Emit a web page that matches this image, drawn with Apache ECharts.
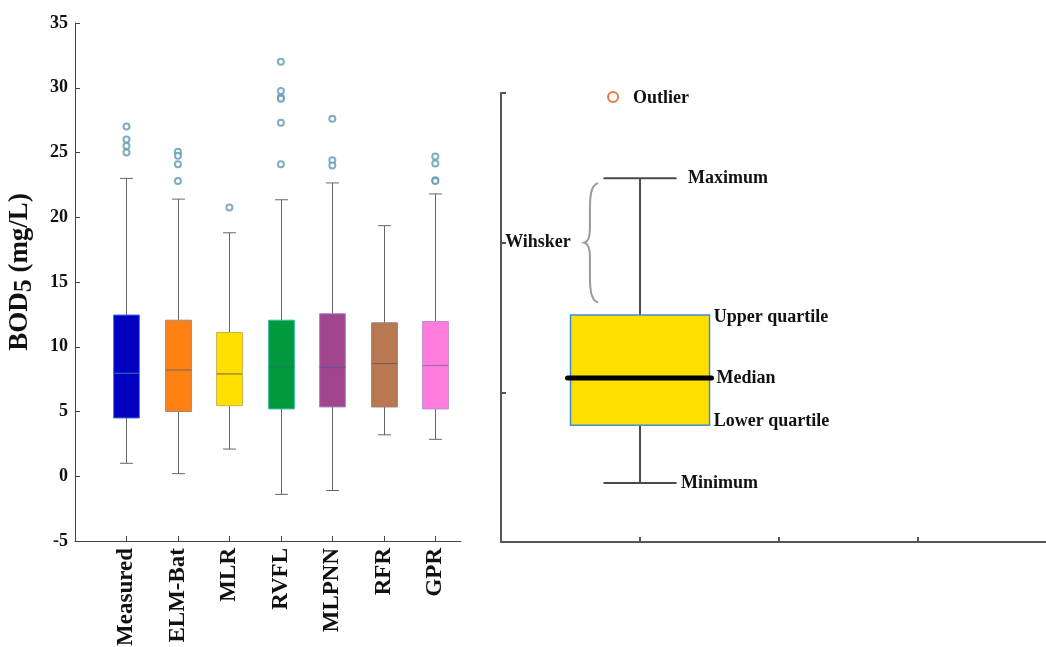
<!DOCTYPE html>
<html>
<head>
<meta charset="utf-8">
<script src="https://cdn.jsdelivr.net/npm/echarts@6/dist/echarts.min.js"></script>
<style>html,body{margin:0;padding:0;background:#fff;}#c{width:1046px;height:647px;}</style>
</head>
<body>
<div id="c"></div>
<script>
// ---- data (left panel) ----
const categories = ['Measured', 'ELM-Bat', 'MLR', 'RVFL', 'MLPNN', 'RFR', 'GPR'];
const mins    = [1.0, 0.2, 2.1, -1.4, -1.1, 3.2, 2.85];
const q1s     = [4.5, 5.0, 5.45, 5.2, 5.35, 5.35, 5.2];
const medians = [7.95, 8.2, 7.9, 8.45, 8.4, 8.7, 8.55];
const q3s     = [12.45, 12.05, 11.1, 12.05, 12.55, 11.85, 11.95];
const maxs    = [23.0, 21.4, 18.8, 21.35, 22.65, 19.35, 21.8];
const outliers = [
  [27.0, 26.0, 25.5, 25.0],
  [25.05, 24.75, 24.1, 22.8],
  [20.75],
  [32.0, 29.75, 29.25, 29.15, 27.3, 24.1],
  [27.6, 24.4, 24.0],
  [],
  [24.7, 24.15, 22.85, 22.8]
];
const yTicks = {min: -5, max: 35, interval: 5};

// ---- data (right panel: schematic) ----
const schemX = 1;
const schemStats = [0.394, 0.78, 1.095, 1.516, 2.43]; // min, Q1, median, Q3, max
const schemOutlier = [0.806, 2.973];
const schemLabels = ['Minimum', 'Lower quartile', 'Median', 'Upper quartile', 'Maximum'];

// ---- styles ----
const fills   = ['#0000c0', '#ff8113', '#ffe000', '#009a3e', '#a2458f', '#b97752', '#ff7bdc'];
const borders = ['#3d70e0', '#a08878', '#c8b24a', '#3db8a0', '#9c88c8', '#968078', '#b98fd6'];
const medCols = ['#2d5fc0', '#8a6650', '#8a7a3a', '#1f7a5c', '#6a4ea0', '#7a6050', '#a06ab8'];
const FONT = '"Liberation Serif", "Times New Roman", serif';

const boxData = categories.map((c, i) => [i + 1, mins[i], q1s[i], medians[i], q3s[i], maxs[i]]);
const outlierData = [];
outliers.forEach((arr, i) => arr.forEach(v => outlierData.push([i + 1, v])));

function renderBox(params, api) {
  const i = params.dataIndex;
  const x = api.value(0);
  const pMin = api.coord([x, api.value(1)]);
  const pQ1 = api.coord([x, api.value(2)]);
  const pMed = api.coord([x, api.value(3)]);
  const pQ3 = api.coord([x, api.value(4)]);
  const pMax = api.coord([x, api.value(5)]);
  const unit = api.size([1, 0])[0];
  const hw = unit * 0.25, cw = unit * 0.125;
  const cx = Math.round(pMin[0]) + 0.5;
  const ws = {stroke: '#666', lineWidth: 1};
  return {type: 'group', children: [
    {type: 'line', shape: {x1: cx, y1: pMax[1], x2: cx, y2: pQ3[1]}, style: ws},
    {type: 'line', shape: {x1: cx, y1: pQ1[1], x2: cx, y2: pMin[1]}, style: ws},
    {type: 'line', shape: {x1: cx - cw, y1: pMax[1], x2: cx + cw, y2: pMax[1]}, style: ws},
    {type: 'line', shape: {x1: cx - cw, y1: pMin[1], x2: cx + cw, y2: pMin[1]}, style: ws},
    {type: 'rect', shape: {x: cx - hw, y: pQ3[1], width: 2 * hw, height: pQ1[1] - pQ3[1]},
      style: {fill: fills[i], stroke: borders[i], lineWidth: 1}},
    {type: 'line', shape: {x1: cx - hw, y1: pMed[1], x2: cx + hw, y2: pMed[1]},
      style: {stroke: medCols[i], lineWidth: 1.2}}
  ]};
}

function renderSchem(params, api) {
  const x = api.value(0);
  const p = [1, 2, 3, 4, 5].map(k => api.coord([x, api.value(k)]));
  const unit = api.size([1, 0])[0];
  const cx = p[0][0];
  const hw = unit * 0.5, cw = unit * 0.263;
  const ws = {stroke: '#4a4a4a', lineWidth: 2};
  const tf = 'bold 18px ' + FONT;
  const txt = (t, xv, yv, dy) => {
    const q = api.coord([xv, yv]);
    return {type: 'text', x: q[0], y: q[1] + (dy || 0), style: {text: t, font: tf, fill: '#111', verticalAlign: 'middle', align: 'left'}};
  };
  // brace anchor points
  const bt = api.coord([0.697, 2.4]);
  const bb = api.coord([0.697, 1.6]);
  const bm = api.coord([0.6, 2.0]);
  const bx = bt[0], ix = bx - 8;
  const path = `M${bx} ${bt[1]} C${bx - 7} ${bt[1] + 3} ${ix} ${bt[1] + 12} ${ix} ${bt[1] + 28} L${ix} ${bm[1] - 14} C${ix} ${bm[1] - 4} ${ix - 2} ${bm[1] - 1} ${bm[0]} ${bm[1]} C${ix - 2} ${bm[1] + 1} ${ix} ${bm[1] + 4} ${ix} ${bm[1] + 14} L${ix} ${bb[1] - 28} C${ix} ${bb[1] - 12} ${bx - 7} ${bb[1] - 3} ${bx} ${bb[1]}`;
  const po = api.coord(schemOutlier);
  return {type: 'group', children: [
    {type: 'line', shape: {x1: cx, y1: p[4][1], x2: cx, y2: p[3][1]}, style: ws},
    {type: 'line', shape: {x1: cx, y1: p[1][1], x2: cx, y2: p[0][1]}, style: ws},
    {type: 'line', shape: {x1: cx - cw, y1: p[4][1], x2: cx + cw, y2: p[4][1]}, style: ws},
    {type: 'line', shape: {x1: cx - cw, y1: p[0][1], x2: cx + cw, y2: p[0][1]}, style: ws},
    {type: 'rect', shape: {x: cx - hw, y: p[3][1], width: 2 * hw, height: p[1][1] - p[3][1]},
      style: {fill: '#ffdf00', stroke: '#3a8fd6', lineWidth: 1.5}},
    {type: 'line', shape: {x1: cx - hw - 3, y1: p[2][1], x2: cx + hw + 2, y2: p[2][1]},
      style: {stroke: '#000', lineWidth: 5, lineCap: 'round'}},
    {type: 'path', shape: {pathData: path}, style: {fill: 'none', stroke: '#9a9a9a', lineWidth: 2}},
    {type: 'circle', shape: {cx: po[0], cy: po[1], r: 5}, style: {fill: 'none', stroke: '#e07b4a', lineWidth: 2}},
    {type: 'text', x: po[0] + 20, y: po[1] + 1, style: {text: 'Outlier', font: tf, fill: '#111', verticalAlign: 'middle'}},
    txt(schemLabels[4], 1.345, api.value(5)),
    txt(schemLabels[3], 1.53, api.value(4), 2),
    txt(schemLabels[2], 1.55, api.value(3)),
    txt(schemLabels[1], 1.53, api.value(2), -4),
    txt(schemLabels[0], 1.295, api.value(1)),
    txt('Wihsker', 0.03, 2.0)
  ]};
}

const chart = echarts.init(document.getElementById('c'), null, {renderer: 'canvas'});
chart.setOption({
  animation: false,
  backgroundColor: '#fff',
  grid: [
    {left: 75, top: 23, width: 386, height: 518, outerBoundsMode: 'none', containLabel: false},
    {left: 501, top: 93, width: 545, height: 449, outerBoundsMode: 'none', containLabel: false}
  ],
  xAxis: [
    {
      type: 'value', gridIndex: 0, min: 0, max: 7.5, interval: 1,
      splitLine: {show: false},
      axisLine: {onZero: false, lineStyle: {color: '#444', width: 1}},
      axisTick: {inside: true, length: 5, lineStyle: {color: '#444'}, customValues: [1, 2, 3, 4, 5, 6, 7]},
      axisLabel: {
        customValues: [1, 2, 3, 4, 5, 6, 7],
        rotate: 90, margin: 7,
        formatter: v => categories[v - 1] || '',
        fontFamily: FONT, fontWeight: 'bold', fontSize: 23, color: '#111'
      }
    },
    {
      type: 'value', gridIndex: 1, min: 0, max: 3.92, interval: 1,
      splitLine: {show: false},
      axisLine: {onZero: false, lineStyle: {color: '#555', width: 2}},
      axisTick: {inside: true, length: 5, lineStyle: {color: '#555', width: 2}, customValues: [1, 2, 3]},
      axisLabel: {show: false}
    }
  ],
  yAxis: [
    {
      type: 'value', gridIndex: 0, min: yTicks.min, max: yTicks.max, interval: yTicks.interval,
      splitLine: {show: false},
      axisLine: {show: true, onZero: false, lineStyle: {color: '#444', width: 1}},
      axisTick: {show: true, inside: true, length: 5, lineStyle: {color: '#444'}},
      axisLabel: {fontFamily: FONT, fontWeight: 'bold', fontSize: 18, color: '#111', margin: 7},
      name: '{b|BOD}{s|5}{b| (mg/L)}',
      nameLocation: 'middle', nameGap: 38, nameRotate: 90,
      nameTextStyle: {
        padding: [0, 0, 0, 20],
        rich: {
          b: {fontFamily: FONT, fontWeight: 'bold', fontSize: 27, color: '#111', lineHeight: 34},
          s: {fontFamily: FONT, fontWeight: 'bold', fontSize: 26, color: '#111', lineHeight: 24, verticalAlign: 'bottom'}
        }
      }
    },
    {
      type: 'value', gridIndex: 1, min: 0, max: 3, interval: 1,
      splitLine: {show: false},
      axisLine: {show: true, onZero: false, lineStyle: {color: '#555', width: 2}},
      axisTick: {show: true, inside: true, length: 5, lineStyle: {color: '#555', width: 2}, customValues: [1, 2, 3]},
      axisLabel: {show: false}
    }
  ],
  series: [
    {
      type: 'custom', xAxisIndex: 0, yAxisIndex: 0,
      renderItem: renderBox,
      encode: {x: 0, y: [1, 2, 3, 4, 5]},
      data: boxData, silent: true
    },
    {
      type: 'scatter', xAxisIndex: 0, yAxisIndex: 0,
      symbol: 'emptyCircle', symbolSize: 6,
      itemStyle: {color: '#5f9ab3', borderColor: '#5f9ab3', borderWidth: 1},
      data: outlierData, silent: true, z: 3
    },
    {
      type: 'custom', xAxisIndex: 1, yAxisIndex: 1,
      renderItem: renderSchem,
      encode: {x: 0, y: [1, 2, 3, 4, 5]},
      data: [[schemX].concat(schemStats)], silent: true, clip: false
    }
  ]
});
</script>
</body>
</html>
